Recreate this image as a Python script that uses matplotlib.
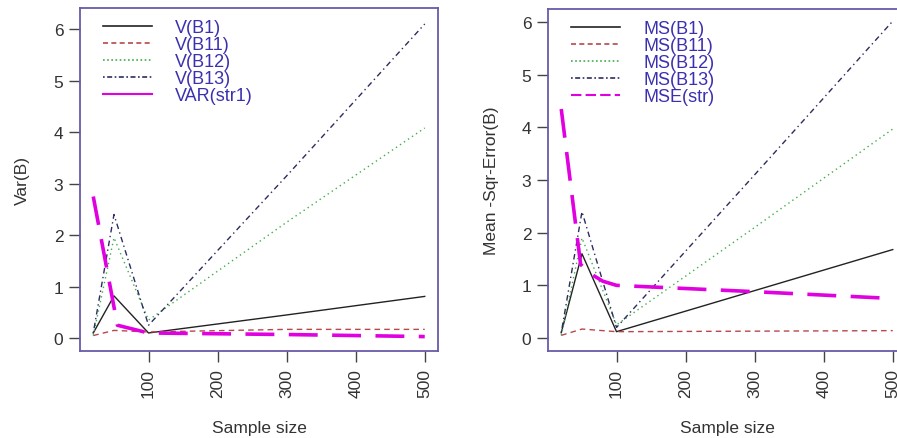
import matplotlib
matplotlib.use("Agg")
import matplotlib.pyplot as plt
from matplotlib.lines import Line2D
from matplotlib import font_manager

# ---------------- data ----------------
sample_x = [20, 50, 100, 300, 500]

var_b1 = [0.10, 0.82, 0.10, 0.45, 0.81]
var_b11 = [0.05, 0.15, 0.12, 0.17, 0.17]
var_b12 = [0.05, 1.95, 0.35, 2.25, 4.08]
var_b13 = [0.10, 2.40, 0.25, 3.15, 6.10]
var_str_x = [20, 55, 100, 300, 500]
var_str = [2.75, 0.25, 0.10, 0.07, 0.03]

ms_b1 = [0.10, 1.60, 0.12, 0.90, 1.68]
ms_b11 = [0.05, 0.17, 0.12, 0.13, 0.14]
ms_b12 = [0.05, 1.90, 0.25, 2.10, 3.97]
ms_b13 = [0.10, 2.40, 0.20, 3.10, 6.02]
mse_str_x = [20, 48, 60, 80, 100, 300, 500]
mse_str = [4.35, 1.40, 1.24, 1.08, 1.00, 0.88, 0.75]

left_labels = ["V(B1)", "V(B11)", "V(B12)", "V(B13)", "VAR(str1)"]
right_labels = ["MS(B1)", "MS(B11)", "MS(B12)", "MS(B13)", "MSE(str)"]
x_ticks = [100, 200, 300, 400, 500]
y_ticks = [0, 1, 2, 3, 4, 5, 6]

# ---------------- style ----------------
avail = {f.name for f in font_manager.fontManager.ttflist}
narrow = "Liberation Sans Narrow" if "Liberation Sans Narrow" in avail else "Liberation Sans"
plt.rcParams["font.family"] = ["Liberation Sans", "DejaVu Sans"]

C_B1 = "#222222"
C_B11 = "#b8484a"
C_B12 = "#3fae4a"
C_B13 = "#2c2c5e"
C_STR = "#e000e0"
BOX = "#6a5aa8"
TXT = "#333333"
LEG_TXT = "#3a30b0"

fig = plt.figure(figsize=(8.97, 4.39), dpi=100)
ax1 = fig.add_axes([80 / 897, 1 - 352 / 439, 358 / 897, 343 / 439])
ax2 = fig.add_axes([548 / 897, 1 - 352 / 439, 358 / 897, 342 / 439])


def style(ax, ylim, ylabel, ypad):
    ax.set_xlim(0.8, 519.2)
    ax.set_ylim(*ylim)
    ax.set_xticks(x_ticks)
    ax.set_yticks(y_ticks)
    ax.set_xticklabels([str(v) for v in x_ticks], rotation=90, fontsize=12.5, color=TXT)
    ax.set_yticklabels([str(v) for v in y_ticks], fontsize=12.5, color=TXT)
    ax.tick_params(direction="out", length=8, width=1, color="#444444", pad=4)
    for s in ax.spines.values():
        s.set_color(BOX)
        s.set_linewidth(1.3)
    ax.set_xlabel("Sample size", fontsize=12.5, color=TXT, family=[narrow, "DejaVu Sans"], labelpad=17)
    ax.set_ylabel(ylabel, fontsize=12.5, color=TXT, family=[narrow, "DejaVu Sans"], labelpad=ypad)


# left panel
ax1.plot(sample_x, var_b1, color=C_B1, lw=1.0, ls="-")
ax1.plot(sample_x, var_b11, color=C_B11, lw=1.0, ls=(0, (4, 3)))
ax1.plot(sample_x, var_b12, color=C_B12, lw=1.0, ls=(0, (1, 2.5)))
ax1.plot(sample_x, var_b13, color=C_B13, lw=1.0, ls=(0, (1, 2.5, 4, 2.5)))
ax1.plot(var_str_x, var_str, color=C_STR, lw=2.6, ls=(0, (8, 4)))
style(ax1, (-0.25, 6.41), "Var(B)", 17)

# right panel
ax2.plot(sample_x, ms_b1, color=C_B1, lw=1.0, ls="-")
ax2.plot(sample_x, ms_b11, color=C_B11, lw=1.0, ls=(0, (4, 3)))
ax2.plot(sample_x, ms_b12, color=C_B12, lw=1.0, ls=(0, (1, 2.5)))
ax2.plot(sample_x, ms_b13, color=C_B13, lw=1.0, ls=(0, (1, 2.5, 4, 2.5)))
ax2.plot(mse_str_x, mse_str, color=C_STR, lw=2.6, ls=(0, (8, 4)))
style(ax2, (-0.247, 6.25), "Mean -Sqr-Error(B)", 16)


def legend(ax, labels, str_ls):
    handles = [
        Line2D([], [], color=C_B1, lw=1.2, ls="-"),
        Line2D([], [], color=C_B11, lw=1.2, ls=(0, (3, 2))),
        Line2D([], [], color=C_B12, lw=1.2, ls=(0, (1, 1.5))),
        Line2D([], [], color=C_B13, lw=1.2, ls=(0, (1, 1.5, 3, 1.5))),
        Line2D([], [], color=C_STR, lw=1.5, ls=str_ls),
    ]
    leg = ax.legend(handles, labels, loc="upper left", bbox_to_anchor=(0.064, 0.968),
                    frameon=False, handlelength=2.7, handletextpad=1.3,
                    labelspacing=0.0, borderpad=0.0, borderaxespad=0.0,
                    prop={"family": [narrow, "DejaVu Sans"], "size": 13})
    for t in leg.get_texts():
        t.set_color(LEG_TXT)


legend(ax1, left_labels, "-")
legend(ax2, right_labels, (0, (5, 2)))

fig.savefig("out.png", dpi=100)
